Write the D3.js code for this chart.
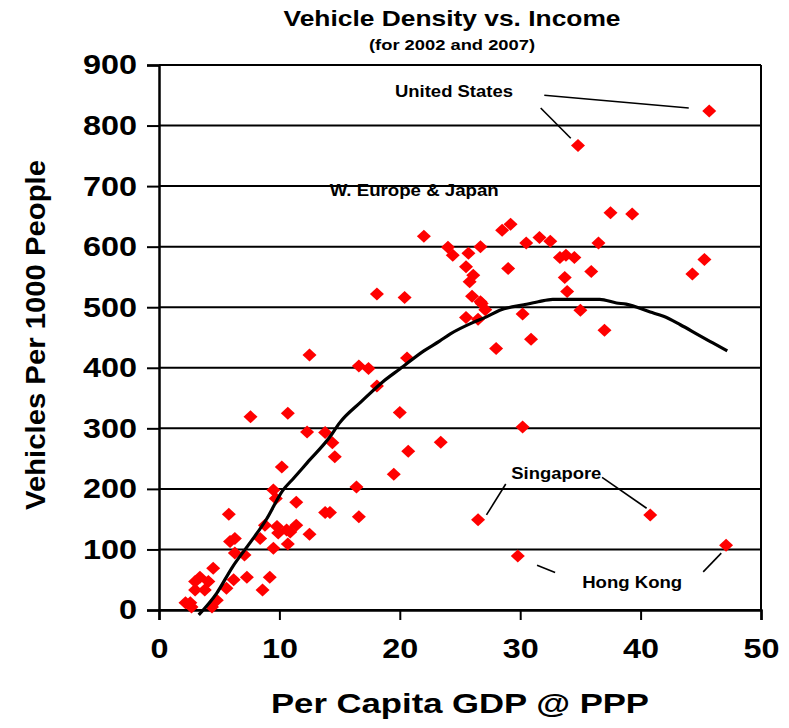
<!DOCTYPE html>
<html>
<head>
<meta charset="utf-8">
<script src="https://cdn.jsdelivr.net/npm/d3@7"></script>
<style>
  body { margin: 0; background: #fff; }
  text { font-family: "Liberation Sans", Arial, sans-serif; font-weight: bold; fill: #000; }
</style>
</head>
<body>
<div id="graph_container"></div>
<script>
// per capita GDP (x) and vehicles per 1000 people (y)
let gdp = [
    2.2, 2.6, 2.7, 3.0, 3.0, 3.4, 3.8, 4.1, 4.4, 4.8, 4.5, 5.6, 6.2, 7.3, 8.6, 9.2,
    5.8, 5.9, 6.3, 6.3, 7.1, 8.4, 8.8, 9.5, 9.5, 9.7, 9.8, 9.9, 10.2, 10.6, 10.7, 10.9,
    11.4, 11.4, 12.5, 7.6, 10.7, 12.3, 13.8, 14.4, 14.6, 13.8, 14.2,
    12.5, 16.6, 17.4, 18.1, 20.6, 20.0, 18.1, 20.4, 20.7, 23.4, 19.5, 16.4, 16.6,
    22.0, 24.0, 24.4, 25.7, 26.7, 25.5, 26.1, 25.8, 26.0, 26.7, 27.1, 25.5, 26.5, 28.0,
    37.5, 39.3, 29.2, 28.5, 31.6, 32.5, 30.5, 36.5, 33.3, 33.8, 34.5, 29.0, 35.9, 45.3,
    44.3, 33.7, 33.9, 35.0, 26.8, 30.2, 37.0, 30.9,
    45.7, 34.8, 30.2, 26.5, 40.8, 47.1, 29.8
];
let vehicles = [
    12, 12, 5, 33, 47, 54, 33, 47, 5, 16, 69, 36, 50, 54, 33, 54,
    158, 113, 118, 94, 91, 118, 140, 102, 198, 184, 138, 127, 236, 132, 109, 129,
    178, 140, 125, 319, 325, 294, 293, 276, 253, 161, 161,
    421, 403, 399, 370, 416, 326, 522, 516, 262, 277, 224, 203, 154,
    617, 599, 586, 589, 600, 567, 553, 542, 518, 509, 496, 483, 480, 432,
    656, 654, 637, 627, 615, 609, 606, 606, 582, 586, 582, 564, 559, 579,
    555, 549, 526, 495, 506, 489, 462, 447,
    824, 767, 302, 149, 157, 107, 89
];

// fitted trend curve
let trendGdp = [3.3, 4.8, 6.1, 7.6, 8.9, 10.3, 11.2, 12.3, 14.2, 15.0, 16.8, 18.6, 20.0, 22.0, 23.3,
    24.2, 26.1, 27.2, 28.3, 30.3, 31.5, 32.7, 36.6, 38.0, 38.8, 40.8, 41.9, 43.3, 44.9, 46.0, 47.2];
let trendVehicles = [-8, 28, 71, 112, 149, 198, 218, 243, 286, 309, 344, 377, 398, 428, 444,
    456, 475, 484, 495, 504, 509, 513, 513, 507, 505, 492, 485, 471, 453, 441, 428];

let xTicks = [0, 10, 20, 30, 40, 50];
let yTicks = [0, 100, 200, 300, 400, 500, 600, 700, 800, 900];

// callouts: label text, label position, leader lines [x1, y1, x2, y2]
let labelNames = ["United States", "W. Europe & Japan", "Singapore", "Hong Kong"];
let labelX = [24.5, 21.2, 33.0, 39.3];
let labelY = [857, 693, 226, 45];
let labelWidth = [118, 169, 90, 100];
let leaders = [
    [32.0, 850, 44.0, 829], [31.7, 829, 34.2, 779],
    [27.2, 157, 28.8, 208], [36.8, 219, 40.5, 168],
    [31.4, 74, 32.9, 62], [45.2, 63, 46.7, 94]
];

function fitText(sel, w){
    sel.attr("textLength", w).attr("lengthAdjust", "spacingAndGlyphs");
}

function drawChart(){
    let svgWidth = 789;
    let svgHeight = 728;
    let margin = {left: 159, right: 28, top: 65, bottom: 118};
    let w = svgWidth - margin.left - margin.right;
    let h = svgHeight - margin.top - margin.bottom;

    let svg = d3.select("#graph_container").append("svg")
        .attr("width", svgWidth)
        .attr("height", svgHeight);

    let x = d3.scaleLinear().domain([0, 50]).range([0, w]);
    let y = d3.scaleLinear().domain([0, 900]).range([h, 0]);

    let g = svg.append("g").attr("transform", "translate(" + margin.left + "," + margin.top + ")");

    // horizontal grid
    g.selectAll("line.grid")
        .data(yTicks)
        .enter()
        .append("line")
        .attr("class", "grid")
        .attr("x1", 0).attr("x2", w)
        .attr("y1", function(d){ return y(d); })
        .attr("y2", function(d){ return y(d); })
        .attr("stroke", "#000")
        .attr("stroke-width", 2);

    // right border
    g.append("line")
        .attr("x1", w).attr("x2", w).attr("y1", 0).attr("y2", h)
        .attr("stroke", "#000").attr("stroke-width", 2);

    // axes
    let yAxis = g.append("g")
        .call(d3.axisLeft(y).tickValues(yTicks).tickSize(12).tickPadding(10).tickFormat(d3.format("d")));
    let xAxis = g.append("g")
        .attr("transform", "translate(0," + h + ")")
        .call(d3.axisBottom(x).tickValues(xTicks).tickSize(10).tickPadding(18));

    [yAxis, xAxis].forEach(function(a){
        a.select(".domain").attr("stroke", "#000").attr("stroke-width", 2.5);
        a.selectAll(".tick line").attr("stroke", "#000").attr("stroke-width", 2);
        a.selectAll("text")
            .attr("font-family", "Liberation Sans, Arial, sans-serif")
            .attr("font-weight", "bold")
            .attr("font-size", 28)
            .attr("fill", "#000");
    });
    yAxis.selectAll("text").each(function(){
        let t = d3.select(this);
        fitText(t, t.text().length * 18);
    });
    xAxis.selectAll("text").each(function(){
        let t = d3.select(this);
        fitText(t, t.text().length * 18);
    });

    // points
    let pts = gdp.map(function(d, i){ return [d, vehicles[i]]; });
    g.selectAll("path.pt")
        .data(pts)
        .enter()
        .append("path")
        .attr("class", "pt")
        .attr("d", "M0,-6.5L7,0L0,6.5L-7,0Z")
        .attr("fill", "#ff0000")
        .attr("transform", function(d){
            return "translate(" + x(d[0]) + "," + y(d[1]) + ")";
        });

    // trend curve
    let line = d3.line()
        .x(function(d, i){ return x(trendGdp[i]); })
        .y(function(d){ return y(d); })
        .curve(d3.curveMonotoneX);
    g.append("path")
        .datum(trendVehicles)
        .attr("d", line)
        .attr("fill", "none")
        .attr("stroke", "#000")
        .attr("stroke-width", 3.2)
        .attr("stroke-linejoin", "round");

    // callouts
    g.selectAll("line.leader")
        .data(leaders)
        .enter()
        .append("line")
        .attr("class", "leader")
        .attr("x1", function(d){ return x(d[0]); })
        .attr("y1", function(d){ return y(d[1]); })
        .attr("x2", function(d){ return x(d[2]); })
        .attr("y2", function(d){ return y(d[3]); })
        .attr("stroke", "#000")
        .attr("stroke-width", 1.6);

    labelNames.forEach(function(name, i){
        let t = g.append("text")
            .attr("x", x(labelX[i]))
            .attr("y", y(labelY[i]))
            .attr("dy", "0.35em")
            .attr("text-anchor", "middle")
            .attr("font-size", 16)
            .text(name);
        fitText(t, labelWidth[i]);
    });

    // titles
    let t1 = svg.append("text")
        .attr("x", 452).attr("y", 26)
        .attr("text-anchor", "middle")
        .attr("font-size", 22)
        .text("Vehicle Density vs. Income");
    fitText(t1, 337);

    let t2 = svg.append("text")
        .attr("x", 452).attr("y", 50)
        .attr("text-anchor", "middle")
        .attr("font-size", 14)
        .text("(for 2002 and 2007)");
    fitText(t2, 166);

    let xt = svg.append("text")
        .attr("x", 460).attr("y", 713)
        .attr("text-anchor", "middle")
        .attr("font-size", 28)
        .text("Per Capita GDP @ PPP");
    fitText(xt, 378);

    let yt = svg.append("text")
        .attr("transform", "translate(45,335) rotate(-90)")
        .attr("text-anchor", "middle")
        .attr("font-size", 27)
        .text("Vehicles Per 1000 People");
    fitText(yt, 350);
}

drawChart();
</script>
</body>
</html>
